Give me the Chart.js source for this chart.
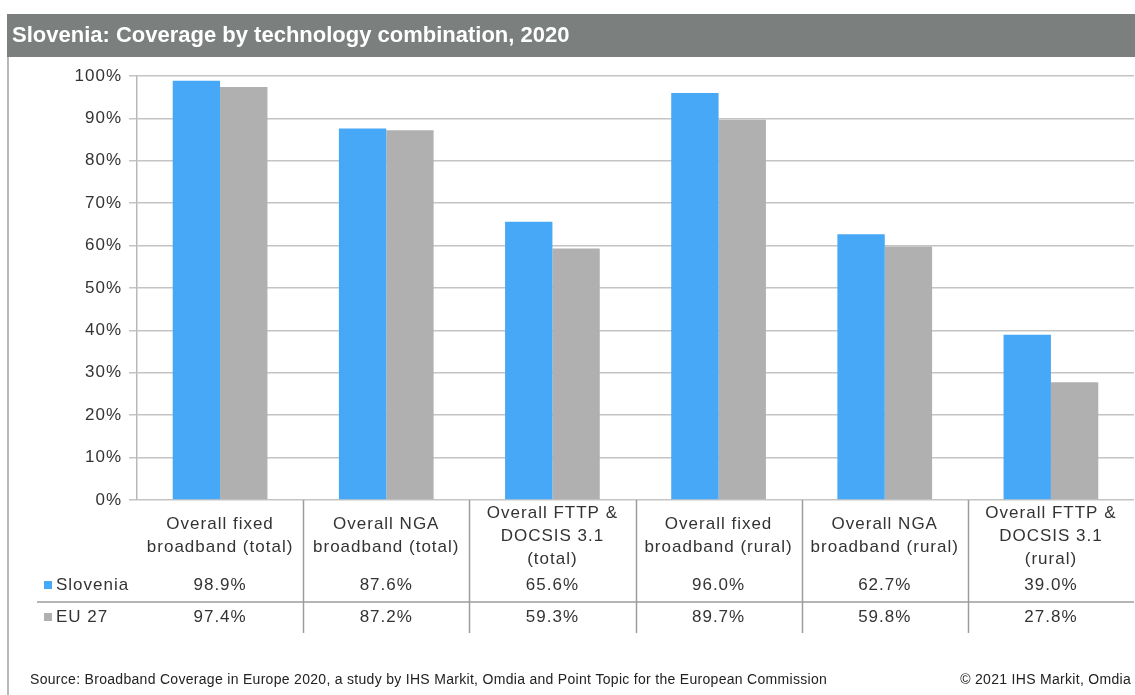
<!DOCTYPE html>
<html>
<head>
<meta charset="utf-8">
<script src="https://cdn.jsdelivr.net/npm/chart.js@4"></script>
<style>
  html, body { margin: 0; padding: 0; background: #fff; }
  #wrap { width: 1135px; height: 695px; position: relative; }
</style>
</head>
<body>
<div id="wrap"><canvas id="chart_coverage"></canvas></div>
<script>
// data
var categories = [
    ['Overall fixed', 'broadband (total)'],
    ['Overall NGA', 'broadband (total)'],
    ['Overall FTTP &', 'DOCSIS 3.1', '(total)'],
    ['Overall fixed', 'broadband (rural)'],
    ['Overall NGA', 'broadband (rural)'],
    ['Overall FTTP &', 'DOCSIS 3.1', '(rural)']
];
var seriesNames = ['Slovenia', 'EU 27'];
var slovenia = [98.9, 87.6, 65.6, 96.0, 62.7, 39.0];
var eu27 = [97.4, 87.2, 59.3, 89.7, 59.8, 27.8];
var seriesColors = ['#46a8f6', '#b0b0b0'];

var titleText = 'Slovenia: Coverage by technology combination, 2020';
var sourceText = 'Source: Broadband Coverage in Europe 2020, a study by IHS Markit, Omdia and Point Topic for the European Commission';
var copyText = '\u00a9 2021 IHS Markit, Omdia';

var FONT = '"Liberation Sans", Arial, sans-serif';
var TEXT = '#333333';

var chart_coverage = new Chart(document.getElementById('chart_coverage'), {
    type: 'bar',
    data: {
        labels: categories,
        datasets: [
            { label: seriesNames[0], data: slovenia, backgroundColor: seriesColors[0], borderWidth: 0 },
            { label: seriesNames[1], data: eu27, backgroundColor: seriesColors[1], borderWidth: 0 }
        ]
    },
    options: {
        animation: false,
        responsive: true,
        maintainAspectRatio: false,
        layout: { padding: { left: 0, top: 76, right: 1, bottom: 195 } },
        datasets: { bar: { categoryPercentage: 0.57, barPercentage: 1.0 } },
        plugins: {
            legend: { display: false },
            title: { display: false },
            tooltip: { enabled: false }
        },
        scales: {
            x: {
                display: false
            },
            y: {
                min: 0,
                max: 100,
                afterFit: function (scale) { scale.width = 137; },
                ticks: {
                    stepSize: 10,
                    padding: 7,
                    color: TEXT,
                    font: { family: FONT, size: 17 },
                    callback: function (v) { return v + '%'; }
                },
                grid: { color: '#c4c4c4', lineWidth: 1.5, tickLength: 8, drawTicks: true },
                border: { display: true, color: '#b8b8b8', width: 1.5 }
            }
        }
    },
    plugins: [{
        id: 'customPlugin',
        beforeDraw: function (chart) {
            var ctx = chart.ctx;
            ctx.save();
            ctx.fillStyle = 'white';
            ctx.fillRect(0, 0, chart.width, chart.height);
            // title bar
            ctx.fillStyle = '#7b807e';
            ctx.fillRect(7, 14, chart.width - 7, 43);
            ctx.fillStyle = '#ffffff';
            ctx.font = 'bold 22px ' + FONT;
            ctx.textBaseline = 'middle';
            ctx.textAlign = 'left';
            ctx.fillText(titleText, 12, 36);
            // left frame line
            ctx.strokeStyle = '#a0a0a0';
            ctx.lineWidth = 1.5;
            ctx.beginPath();
            ctx.moveTo(8, 57);
            ctx.lineTo(8, chart.height);
            ctx.stroke();
            ctx.restore();
            ctx.letterSpacing = '1px';
        },
        afterDraw: function (chart) {
            var ctx = chart.ctx;
            var xs = chart.scales.x;
            var area = chart.chartArea;
            var colW = (area.right - area.left) / categories.length;
            var rowY = [585, 617];
            var values = [slovenia, eu27];
            ctx.save();
            ctx.letterSpacing = '1px';
            // separators
            ctx.strokeStyle = '#9c9c9c';
            ctx.lineWidth = 1.5;
            for (var i = 1; i < categories.length; i++) {
                var sx = Math.round(area.left + colW * i) + 0.5;
                ctx.beginPath();
                ctx.moveTo(sx, area.bottom);
                ctx.lineTo(sx, 633);
                ctx.stroke();
            }
            ctx.beginPath();
            ctx.moveTo(37, 602);
            ctx.lineTo(area.right, 602);
            ctx.stroke();
            // category labels
            ctx.fillStyle = TEXT;
            ctx.font = '17px ' + FONT;
            ctx.textAlign = 'center';
            ctx.textBaseline = 'middle';
            categories.forEach(function (lines, i) {
                var cx = xs.getPixelForValue(i);
                var y0 = 536 - (lines.length - 1) * 23 / 2;
                lines.forEach(function (t, k) { ctx.fillText(t, cx, y0 + k * 23); });
            });
            // legend rows + values
            seriesNames.forEach(function (name, s) {
                ctx.fillStyle = seriesColors[s];
                ctx.fillRect(44, rowY[s] - 4, 8, 8);
                ctx.fillStyle = TEXT;
                ctx.textAlign = 'left';
                ctx.fillText(name, 56, rowY[s]);
                ctx.textAlign = 'center';
                values[s].forEach(function (v, i) {
                    ctx.fillText(v.toFixed(1) + '%', xs.getPixelForValue(i), rowY[s]);
                });
            });
            // footer
            ctx.letterSpacing = '0.3px';
            ctx.font = '14px ' + FONT;
            ctx.fillStyle = '#222222';
            ctx.textAlign = 'left';
            ctx.fillText(sourceText, 30, 680);
            ctx.textAlign = 'right';
            ctx.fillText(copyText, 1131, 680);
            ctx.restore();
        }
    }]
});
</script>
</body>
</html>
